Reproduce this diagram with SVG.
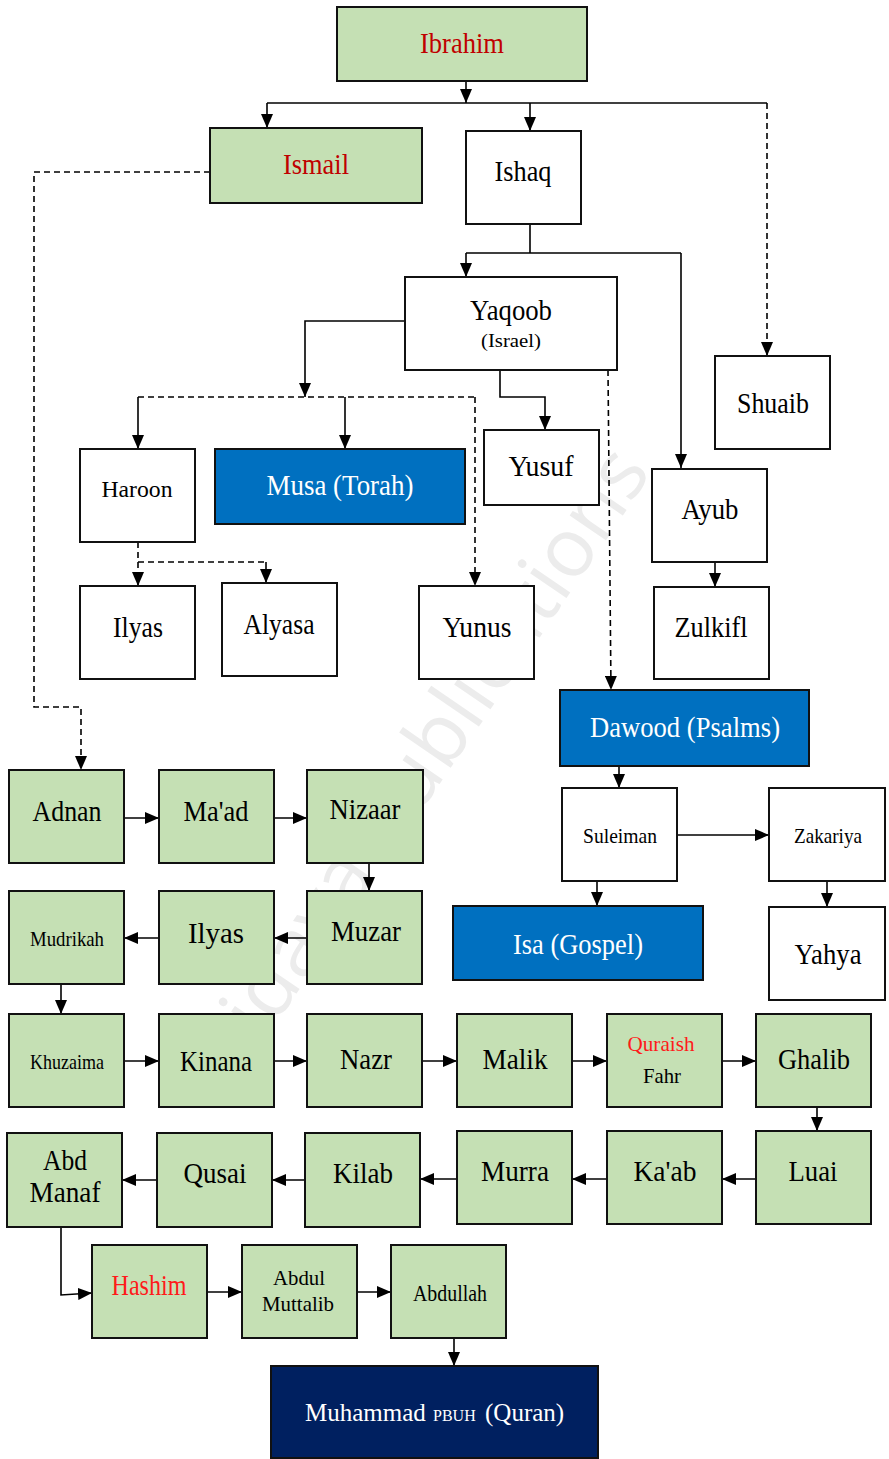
<svg xmlns="http://www.w3.org/2000/svg" width="889" height="1459" viewBox="0 0 889 1459">
<defs>
<marker id="arr" markerUnits="userSpaceOnUse" markerWidth="14" markerHeight="12" viewBox="0 0 14 12" refX="14" refY="6" orient="auto"><path d="M0,0 L14,6 L0,12 z" fill="#000"/></marker>
<style>
.box{stroke:#111;stroke-width:2}
.g{fill:#c5e0b4}
.w{fill:#fff}
.b{fill:#0070c0}
.n{fill:#002060}
text{font-family:"Liberation Serif","Times New Roman",serif;text-anchor:middle;fill:#000}
.t{font-size:29px}
.m{font-size:24px}
.s{font-size:22px}
.red{fill:#c00000}
.red2{fill:#ff1a1a}
.wt{fill:#fff}
.st{text-anchor:start}
.c{fill:none;stroke:#000;stroke-width:1.6}
.a{marker-end:url(#arr)}
.d{stroke-dasharray:6 4}
.wm{font-family:"Open Sans","DejaVu Sans",sans-serif;font-size:82px;fill:#ececec;text-anchor:middle}
</style>
</defs>
<rect width="889" height="1459" fill="#fff"/>
<text class="wm" transform="translate(458,757) rotate(-55.7)">idaya publications</text>
<g id="connectors">
<path class="c a" d="M466,81 V103"/>
<path class="c" d="M267,103 H767"/>
<path class="c a" d="M267,103 V128"/>
<path class="c a" d="M530,103 V131"/>
<path class="c a d" d="M767,103 V356"/>
<path class="c a d" d="M210,172 H34 V707 H81 V770"/>
<path class="c" d="M530,224 L530,253 M466,253 H681"/>
<path class="c a" d="M466,253 V277"/>
<path class="c a" d="M681,253 V468"/>
<path class="c a" d="M405,321 H305 V397"/>
<path class="c d" d="M138,397 H475"/>
<path class="c a d" d="M475,397 V586"/>
<path class="c a" d="M138,397 V449"/>
<path class="c a" d="M345,397 V449"/>
<path class="c a" d="M500,370 V397 H545 V430"/>
<path class="c a d" d="M608,370 L611,690"/>
<path class="c d" d="M138,542 V562 H266"/>
<path class="c a d" d="M138,562 V586"/>
<path class="c a" d="M266,562 V583"/>
<path class="c a" d="M715,562 V587"/>
<path class="c a" d="M619,766 V788"/>
<path class="c a" d="M677,835 H769"/>
<path class="c a" d="M597,881 V906"/>
<path class="c a" d="M827,881 V907"/>
<path class="c a" d="M124,818 H159"/>
<path class="c a" d="M274,818 H307"/>
<path class="c a" d="M369,863 V891"/>
<path class="c a" d="M307,938 H274"/>
<path class="c a" d="M159,938 H124"/>
<path class="c a" d="M61,984 V1014"/>
<path class="c a" d="M124,1061 H159"/>
<path class="c a" d="M274,1061 H307"/>
<path class="c a" d="M422,1061 H457"/>
<path class="c a" d="M572,1061 H607"/>
<path class="c a" d="M722,1061 H756"/>
<path class="c a" d="M817,1107 V1131"/>
<path class="c a" d="M756,1179 H722"/>
<path class="c a" d="M607,1179 H572"/>
<path class="c a" d="M457,1179 H420"/>
<path class="c a" d="M305,1180 H272"/>
<path class="c a" d="M157,1180 H122"/>
<path class="c a" d="M61,1227 V1295 L92,1293"/>
<path class="c a" d="M207,1292 H242"/>
<path class="c a" d="M357,1292 H391"/>
<path class="c a" d="M454,1338 V1366"/>
</g>
<g id="ibrahim"><rect class="box g" x="337" y="7" width="250" height="74"/><text class="t red" x="462" y="53" textLength="84" lengthAdjust="spacingAndGlyphs">Ibrahim</text></g>
<g id="ismail"><rect class="box g" x="210" y="128" width="212" height="75"/><text class="t red" x="316" y="174" textLength="66" lengthAdjust="spacingAndGlyphs">Ismail</text></g>
<g id="ishaq"><rect class="box w" x="466" y="131" width="115" height="93"/><text class="t" x="523" y="181" textLength="57" lengthAdjust="spacingAndGlyphs">Ishaq</text></g>
<g id="yaqoob"><rect class="box w" x="405" y="277" width="212" height="93"/><text class="t" x="511" y="320" textLength="82" lengthAdjust="spacingAndGlyphs">Yaqoob</text><text x="511" y="347" style="font-size:19px" textLength="60" lengthAdjust="spacingAndGlyphs">(Israel)</text></g>
<g id="shuaib"><rect class="box w" x="715" y="356" width="115" height="93"/><text class="t" x="773" y="413" textLength="72" lengthAdjust="spacingAndGlyphs">Shuaib</text></g>
<g id="haroon"><rect class="box w" x="80" y="449" width="115" height="93"/><text class="m" x="137" y="497" textLength="71" lengthAdjust="spacingAndGlyphs">Haroon</text></g>
<g id="musa"><rect class="box b" x="215" y="449" width="250" height="75"/><text class="t wt" x="340" y="495" textLength="147" lengthAdjust="spacingAndGlyphs">Musa (Torah)</text></g>
<g id="yusuf"><rect class="box w" x="484" y="430" width="115" height="75"/><text class="t" x="541" y="476" textLength="65" lengthAdjust="spacingAndGlyphs">Yusuf</text></g>
<g id="ayub"><rect class="box w" x="652" y="469" width="115" height="93"/><text class="t" x="710" y="519" textLength="57" lengthAdjust="spacingAndGlyphs">Ayub</text></g>
<g id="ilyas1"><rect class="box w" x="80" y="586" width="115" height="93"/><text class="t" x="138" y="637" textLength="50" lengthAdjust="spacingAndGlyphs">Ilyas</text></g>
<g id="alyasa"><rect class="box w" x="222" y="583" width="115" height="93"/><text class="t" x="279" y="634" textLength="71" lengthAdjust="spacingAndGlyphs">Alyasa</text></g>
<g id="yunus"><rect class="box w" x="419" y="586" width="115" height="93"/><text class="t" x="477" y="637" textLength="69" lengthAdjust="spacingAndGlyphs">Yunus</text></g>
<g id="zulkifl"><rect class="box w" x="654" y="587" width="115" height="92"/><text class="t" x="711" y="637" textLength="73" lengthAdjust="spacingAndGlyphs">Zulkifl</text></g>
<g id="dawood"><rect class="box b" x="560" y="690" width="249" height="76"/><text class="t wt" x="685" y="737" textLength="190" lengthAdjust="spacingAndGlyphs">Dawood (Psalms)</text></g>
<g id="suleiman"><rect class="box w" x="562" y="788" width="115" height="93"/><text class="s" x="620" y="843" textLength="74" lengthAdjust="spacingAndGlyphs">Suleiman</text></g>
<g id="zakariya"><rect class="box w" x="769" y="788" width="116" height="93"/><text class="s" x="828" y="843" textLength="68" lengthAdjust="spacingAndGlyphs">Zakariya</text></g>
<g id="isa"><rect class="box b" x="453" y="906" width="250" height="74"/><text class="t wt" x="578" y="954" textLength="130" lengthAdjust="spacingAndGlyphs">Isa (Gospel)</text></g>
<g id="yahya"><rect class="box w" x="769" y="907" width="116" height="93"/><text class="t" x="828" y="964" textLength="67" lengthAdjust="spacingAndGlyphs">Yahya</text></g>
<g id="adnan"><rect class="box g" x="9" y="770" width="115" height="93"/><text class="t" x="67" y="821" textLength="69" lengthAdjust="spacingAndGlyphs">Adnan</text></g>
<g id="maad"><rect class="box g" x="159" y="770" width="115" height="93"/><text class="t" x="216" y="821" textLength="65" lengthAdjust="spacingAndGlyphs">Ma'ad</text></g>
<g id="nizaar"><rect class="box g" x="307" y="770" width="116" height="93"/><text class="t" x="365" y="819" textLength="71" lengthAdjust="spacingAndGlyphs">Nizaar</text></g>
<g id="mudrikah"><rect class="box g" x="9" y="891" width="115" height="93"/><text class="s" x="67" y="946" textLength="74" lengthAdjust="spacingAndGlyphs">Mudrikah</text></g>
<g id="ilyas2"><rect class="box g" x="159" y="891" width="115" height="93"/><text class="t" x="216" y="943" textLength="56" lengthAdjust="spacingAndGlyphs">Ilyas</text></g>
<g id="muzar"><rect class="box g" x="307" y="891" width="115" height="93"/><text class="t" x="366" y="941" textLength="70" lengthAdjust="spacingAndGlyphs">Muzar</text></g>
<g id="khuzaima"><rect class="box g" x="9" y="1014" width="115" height="93"/><text class="s" x="67" y="1069" textLength="74" lengthAdjust="spacingAndGlyphs">Khuzaima</text></g>
<g id="kinana"><rect class="box g" x="159" y="1014" width="115" height="93"/><text class="t" x="216" y="1071" textLength="72" lengthAdjust="spacingAndGlyphs">Kinana</text></g>
<g id="nazr"><rect class="box g" x="307" y="1014" width="115" height="93"/><text class="t" x="366" y="1069" textLength="52" lengthAdjust="spacingAndGlyphs">Nazr</text></g>
<g id="malik"><rect class="box g" x="457" y="1014" width="115" height="93"/><text class="t" x="515" y="1069" textLength="65" lengthAdjust="spacingAndGlyphs">Malik</text></g>
<g id="quraish"><rect class="box g" x="607" y="1014" width="115" height="93"/><text class="s red2" x="661" y="1051" textLength="67" lengthAdjust="spacingAndGlyphs">Quraish</text><text class="s" x="662" y="1083" textLength="38" lengthAdjust="spacingAndGlyphs">Fahr</text></g>
<g id="ghalib"><rect class="box g" x="756" y="1014" width="115" height="93"/><text class="t" x="814" y="1069" textLength="72" lengthAdjust="spacingAndGlyphs">Ghalib</text></g>
<g id="abdmanaf"><rect class="box g" x="7" y="1133" width="115" height="94"/><text class="t" x="65" y="1170" textLength="44" lengthAdjust="spacingAndGlyphs">Abd</text><text class="t" x="65" y="1202" textLength="71" lengthAdjust="spacingAndGlyphs">Manaf</text></g>
<g id="qusai"><rect class="box g" x="157" y="1133" width="115" height="94"/><text class="t" x="215" y="1183" textLength="63" lengthAdjust="spacingAndGlyphs">Qusai</text></g>
<g id="kilab"><rect class="box g" x="305" y="1133" width="115" height="94"/><text class="t" x="363" y="1183" textLength="60" lengthAdjust="spacingAndGlyphs">Kilab</text></g>
<g id="murra"><rect class="box g" x="457" y="1131" width="115" height="93"/><text class="t" x="515" y="1181" textLength="68" lengthAdjust="spacingAndGlyphs">Murra</text></g>
<g id="kaab"><rect class="box g" x="607" y="1131" width="115" height="93"/><text class="t" x="665" y="1181" textLength="63" lengthAdjust="spacingAndGlyphs">Ka'ab</text></g>
<g id="luai"><rect class="box g" x="756" y="1131" width="115" height="93"/><text class="t" x="813" y="1181" textLength="49" lengthAdjust="spacingAndGlyphs">Luai</text></g>
<g id="hashim"><rect class="box g" x="92" y="1245" width="115" height="93"/><text class="t red2" x="149" y="1295" textLength="75" lengthAdjust="spacingAndGlyphs">Hashim</text></g>
<g id="abdulmuttalib"><rect class="box g" x="242" y="1245" width="115" height="93"/><text class="s" x="299" y="1285" textLength="52" lengthAdjust="spacingAndGlyphs">Abdul</text><text class="s" x="298" y="1311" textLength="72" lengthAdjust="spacingAndGlyphs">Muttalib</text></g>
<g id="abdullah"><rect class="box g" x="391" y="1245" width="115" height="93"/><text class="m" x="450" y="1301" textLength="74" lengthAdjust="spacingAndGlyphs">Abdullah</text></g>
<g id="muhammad"><rect class="box n" x="271" y="1366" width="327" height="92"/><text class="wt st" x="305" y="1421" style="font-size:25px">Muhammad</text><text class="wt st" x="433" y="1421" style="font-size:16px">PBUH</text><text class="wt st" x="485" y="1421" style="font-size:25px">(Quran)</text></g>
</svg>
